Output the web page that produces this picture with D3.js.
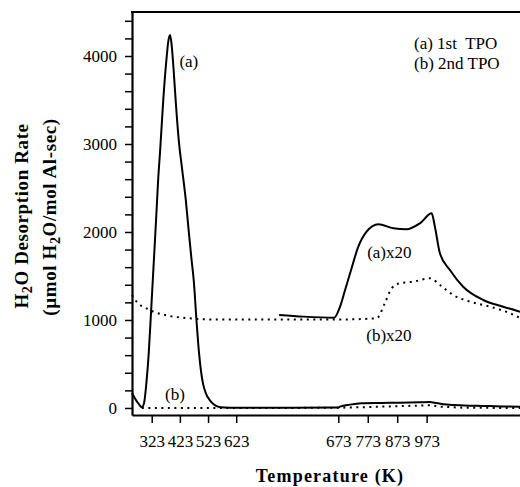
<!DOCTYPE html>
<html>
<head>
<meta charset="utf-8">
<script src="https://cdn.jsdelivr.net/npm/d3@7"></script>
<style>
  body { margin: 0; background: #fff; }
  svg text { font-family: "Liberation Serif", "DejaVu Serif", serif; fill: #000; }
</style>
</head>
<body>
<div id="chart"></div>
<script>
// --- Data (temperature in K, rate in umol H2O / mol Al-sec) ---
const tempA = [253, 263, 278, 288, 296, 304, 312, 321, 330, 339, 346, 353, 364, 375, 382, 388, 393, 400, 409, 420, 430, 444, 455, 464, 473, 481, 490, 498, 505, 516, 529, 544, 558, 580, 623, 673, 679, 713, 752, 820, 882, 950, 984, 1000, 1041, 1100, 1164, 1230, 1290];
const rateA = [170, 110, 40, 8, 60, 280, 600, 1110, 1640, 2170, 2600, 2930, 3500, 3950, 4170, 4240, 4150, 3880, 3450, 3010, 2740, 2364, 1990, 1700, 1420, 1040, 660, 420, 280, 160, 90, 40, 15, 5, 3, 5, 15, 38, 53, 57, 60, 65, 68, 60, 38, 28, 23, 18, 15];

const tempB = [288, 560, 673, 713, 770, 850, 920, 984, 1018, 1063, 1100, 1290];
const rateB = [0, 0, 2, 6, 10, 18, 24, 30, 15, 8, 3, 0];

const tempA20 = [644, 656, 671, 679, 696, 713, 741, 769, 809, 860, 905, 950, 990, 1001, 1018, 1052, 1097, 1165, 1233, 1290];
const rateA20 = [1057, 1038, 1026, 1151, 1340, 1530, 1833, 2003, 2087, 2042, 2030, 2098, 2212, 2060, 1758, 1568, 1378, 1227, 1151, 1094];

const tempB20 = [253, 274, 300, 328, 381, 476, 560, 673, 803, 831, 854, 882, 928, 984, 1018, 1063, 1120, 1188, 1256, 1290];
const rateB20 = [1284, 1190, 1140, 1095, 1049, 1015, 1005, 1005, 1019, 1190, 1360, 1417, 1435, 1474, 1398, 1284, 1208, 1151, 1076, 1023];

const xTicks = [323, 423, 523, 623, 673, 773, 873, 973];
const yTicks = [0, 1000, 2000, 3000, 4000];
const legendLines = ["(a) 1st  TPO", "(b) 2nd TPO"];

// --- SVG Setup ---
const width = 520;
const height = 487;

const svg = d3.select("#chart")
  .append("svg")
  .attr("width", width)
  .attr("height", height);

// broken temperature axis: two linear pieces with a stretched gap between 623 and 673
const x = d3.scaleLinear()
  .domain([253, 623, 673, 1290])
  .range([132, 236.2, 338.3, 520]);

const y = d3.scaleLinear()
  .domain([-80, 4500])
  .range([415, 12]);

// --- Axes ---
const yAxis = svg.append("g")
  .attr("transform", `translate(${x.range()[0]},0)`)
  .call(d3.axisLeft(y)
    .tickValues(d3.range(0, 4401, 200))
    .tickFormat(d => yTicks.includes(d) ? d : "")
    .tickSize(7)
    .tickSizeOuter(0)
    .tickPadding(8));

const xAxis = svg.append("g")
  .attr("transform", `translate(0,${y.range()[0]})`)
  .call(d3.axisBottom(x)
    .tickValues(xTicks)
    .tickFormat(d3.format("d"))
    .tickSize(8)
    .tickSizeOuter(0)
    .tickPadding(12));

[yAxis, xAxis].forEach(g => {
  g.attr("font-family", null).attr("font-size", 17);
  g.select(".domain").attr("stroke-width", 2.2);
  g.selectAll(".tick line").attr("stroke-width", 1.5);
});

// top frame line
svg.append("line")
  .attr("x1", x.range()[0] - 1)
  .attr("x2", width)
  .attr("y1", y.range()[1])
  .attr("y2", y.range()[1])
  .attr("stroke", "#000")
  .attr("stroke-width", 2.2);

// --- Curves ---
const line = d3.line()
  .x(d => x(d[0]))
  .y(d => y(d[1]))
  .curve(d3.curveMonotoneX);

const series = [
  { t: tempA, v: rateA, dash: null },
  { t: tempB, v: rateB, dash: "2,4.5" },
  { t: tempA20, v: rateA20, dash: null },
  { t: tempB20, v: rateB20, dash: "2,4.5" }
];

svg.selectAll(".curve")
  .data(series)
  .enter()
  .append("path")
  .attr("class", "curve")
  .attr("d", d => line(d3.zip(d.t, d.v)))
  .attr("fill", "none")
  .attr("stroke", "#000")
  .attr("stroke-width", 2)
  .attr("stroke-dasharray", d => d.dash);

// --- Labels ---
const labels = [
  { text: "(a)", t: 400, v: 4000, dx: 6, dy: 11 },
  { text: "(b)", t: 363, v: 0, dx: 2, dy: -8 },
  { text: "(a)x20", t: 771, v: 1700, dx: 0, dy: 0 },
  { text: "(b)x20", t: 768, v: 760, dx: 0, dy: 0 }
];

svg.selectAll(".lbl")
  .data(labels)
  .enter()
  .append("text")
  .attr("class", "lbl")
  .attr("x", d => x(d.t) + d.dx)
  .attr("y", d => y(d.v) + d.dy)
  .attr("font-size", 17)
  .text(d => d.text);

svg.selectAll(".legend")
  .data(legendLines)
  .enter()
  .append("text")
  .attr("class", "legend")
  .attr("x", 414)
  .attr("y", (d, i) => 49 + i * 20)
  .attr("font-size", 17)
  .style("white-space", "pre")
  .text(d => d);

// --- Axis titles ---
svg.append("text")
  .attr("x", 330)
  .attr("y", 482)
  .attr("text-anchor", "middle")
  .attr("font-size", 18)
  .attr("font-weight", "bold")
  .attr("letter-spacing", 1.2)
  .text("Temperature (K)");

const yTitle = svg.append("g")
  .attr("transform", "rotate(-90)")
  .attr("font-size", 19)
  .attr("font-weight", "bold")
  .attr("letter-spacing", 0.6);

const t1 = yTitle.append("text")
  .attr("x", -216)
  .attr("y", 28)
  .attr("text-anchor", "middle");
t1.append("tspan").text("H");
t1.append("tspan").attr("font-size", 14).attr("dy", 4).text("2");
t1.append("tspan").attr("dy", -4).text("O Desorption Rate");

const t2 = yTitle.append("text")
  .attr("x", -217)
  .attr("y", 56)
  .attr("text-anchor", "middle");
t2.append("tspan").text("(\u00b5mol H");
t2.append("tspan").attr("font-size", 14).attr("dy", 4).text("2");
t2.append("tspan").attr("dy", -4).text("O/mol Al-sec)");
</script>
</body>
</html>
